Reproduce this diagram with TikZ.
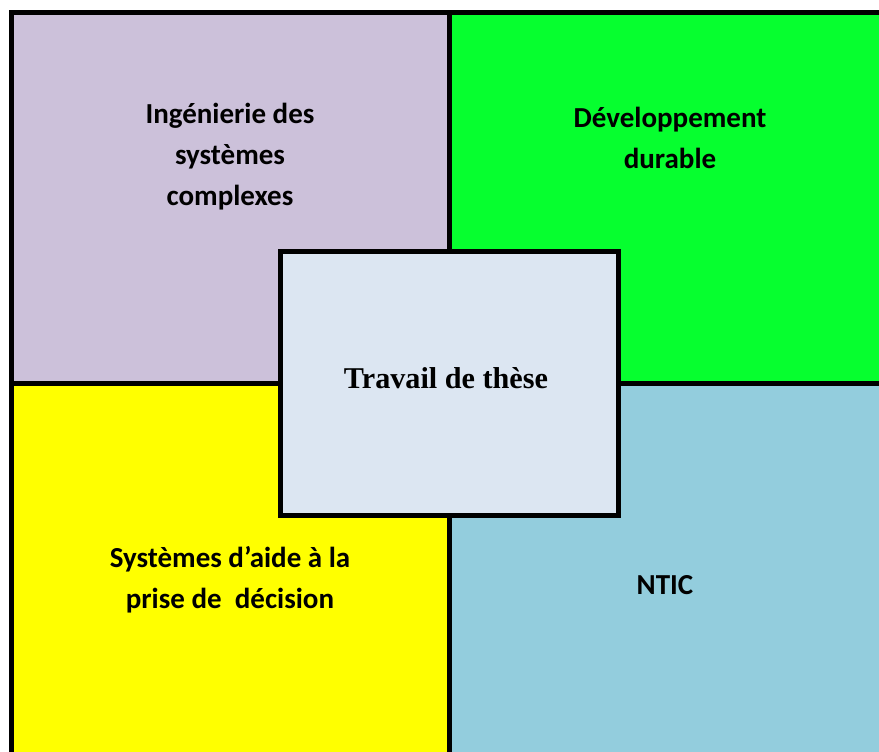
\documentclass[tikz,border=0pt]{standalone}
\usepackage{fontspec}
\setmainfont{Carlito}
\newfontfamily\serifbf{Liberation Serif}
\definecolor{lilac}{HTML}{CCC1DA}
\definecolor{vgreen}{HTML}{06FF2F}
\definecolor{vyellow}{HTML}{FFFF00}
\definecolor{vblue}{HTML}{93CDDD}
\definecolor{pale}{HTML}{DCE6F2}
\tikzset{
  lbl/.style={font=\fontsize{29}{41}\selectfont\bfseries, align=center, inner sep=0pt},
  border/.style={line width=5pt, draw=black},
}
\begin{document}
\begin{tikzpicture}[x=1pt,y=-1pt]
\useasboundingbox (0,0) rectangle (879,752);
\clip (0,0) rectangle (879,752);
\fill[lilac] (11.5,12.5) rectangle (449.5,383);
\fill[vgreen] (449.5,12.5) rectangle (890,383);
\fill[vyellow] (11.5,383) rectangle (449.5,760);
\fill[vblue] (449.5,383) rectangle (890,760);
\coordinate (tl) at (11.5,12.5);
\coordinate (tr) at (890,12.5);
\coordinate (bl) at (11.5,760);
\coordinate (ml) at (11.5,383);
\coordinate (mr) at (890,383);
\coordinate (mt) at (449.5,12.5);
\coordinate (mb) at (449.5,760);
\draw[border] (tr) -- (tl) -- (bl);
\draw[border] (mt) -- (mb);
\draw[border] (ml) -- (mr);
\node[border, fill=pale, minimum width=338pt, minimum height=264pt, inner sep=0pt] (center) at (449.5,383.5) {};
\node[font=\serifbf\fontsize{30.2}{35}\selectfont\bfseries, inner sep=0pt] (these) at (446,378) {Travail de thèse};
\node[lbl] (isc) at (230,157) {Ingénierie des\\systèmes\\complexes};
\node[lbl] (dd) at (670,137.5) {Développement\\durable};
\node[lbl] (sad) at (230,579.5) {Systèmes d’aide à la\\prise de\ \ décision};
\node[lbl] (ntic) at (665,585) {NTIC};
\end{tikzpicture}
\end{document}
